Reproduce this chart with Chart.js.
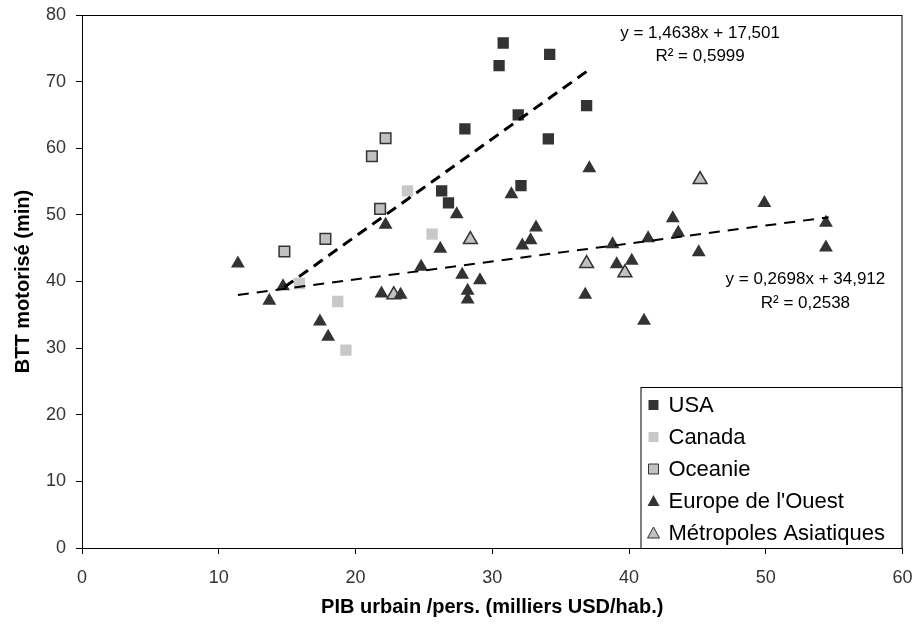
<!DOCTYPE html>
<html>
<head>
<meta charset="utf-8">
<script src="https://cdn.jsdelivr.net/npm/chart.js@4.4.1/dist/chart.umd.min.js"></script>
<style>
  html, body { margin: 0; padding: 0; background: #fff; }
  canvas { display: block; }
</style>
</head>
<body>
<canvas id="bttChart" width="912" height="627"></canvas>
<script>
// values (x = PIB urbain, y = BTT motorisé)
const usaX = [30.8, 34.2, 30.5, 36.9, 31.9, 28.0, 34.1, 32.1, 26.3, 26.8];
const usaY = [75.8, 74.1, 72.4, 66.4, 65.0, 62.9, 61.4, 54.4, 53.6, 51.8];

const canadaX = [23.8, 25.6, 15.9, 18.7, 19.3];
const canadaY = [53.6, 47.1, 39.7, 37.0, 29.7];

const oceanieX = [22.2, 21.2, 21.8, 17.8, 14.8];
const oceanieY = [61.5, 58.8, 50.9, 46.4, 44.5];

const europeX = [11.4, 13.7, 14.7, 17.4, 18.0, 22.2, 21.9, 23.3, 27.4, 26.2, 24.8, 27.8, 29.1, 28.2, 28.2, 37.1,
                 31.4, 33.2, 32.8, 32.2, 38.8, 39.1, 40.2, 36.8, 41.1, 41.4, 43.2, 43.6, 45.1, 49.9, 54.4, 54.4];
const europeY = [42.7, 37.1, 39.3, 34.0, 31.7, 48.5, 38.2, 38.0, 50.1, 44.9, 42.2, 41.0, 40.2, 38.6, 37.3, 57.0,
                 53.1, 48.1, 46.2, 45.4, 45.6, 42.6, 43.1, 38.0, 34.1, 46.5, 49.5, 47.3, 44.4, 51.8, 48.8, 45.1];

const asieX = [28.4, 22.8, 36.9, 39.7, 45.2];
const asieY = [46.3, 38.0, 42.7, 41.3, 55.3];

// trend lines as printed on the chart: slope, intercept, x range
const trendNord = [1.4638, 17.501];
const trendNordRange = [14.8, 37.0];
const trendNordText = ['y = 1,4638x + 17,501', 'R² = 0,5999'];
const trendEurAsie = [0.2698, 34.912];
const trendEurAsieRange = [11.4, 54.6];
const trendEurAsieText = ['y = 0,2698x + 34,912', 'R² = 0,2538'];

const xTicks = [0, 10, 20, 30, 40, 50, 60];
const yTicks = [0, 10, 20, 30, 40, 50, 60, 70, 80];

const toPoints = (xs, ys) => xs.map((x, i) => ({x: x, y: ys[i]}));
const trendPoints = (coef, range) => range.map(x => ({x: x, y: coef[0] * x + coef[1]}));

const dark = '#333333';
const FONT = '"Liberation Sans", Arial, sans-serif';

const datasets = [
    {label: 'trendNord', type: 'line', data: trendPoints(trendNord, trendNordRange),
     borderColor: '#000', borderWidth: 3, borderDash: [11, 7], pointRadius: 0, fill: false, inLegend: false},
    {label: 'trendEurAsie', type: 'line', data: trendPoints(trendEurAsie, trendEurAsieRange),
     borderColor: '#000', borderWidth: 2, borderDash: [11, 8], pointRadius: 0, fill: false, inLegend: false},
    {label: 'USA', data: toPoints(usaX, usaY), pointStyle: 'rect', pointRadius: 8,
     backgroundColor: dark, borderColor: dark, borderWidth: 0},
    {label: 'Canada', data: toPoints(canadaX, canadaY), pointStyle: 'rect', pointRadius: 8,
     backgroundColor: '#c8c8c8', borderColor: '#c8c8c8', borderWidth: 0},
    {label: 'Oceanie', data: toPoints(oceanieX, oceanieY), pointStyle: 'rect', pointRadius: 7.5,
     backgroundColor: '#c0c0c0', borderColor: dark, borderWidth: 1.5},
    {label: "Europe de l'Ouest", data: toPoints(europeX, europeY), pointStyle: 'triangle', pointRadius: 8,
     backgroundColor: dark, borderColor: dark, borderWidth: 0},
    {label: 'Métropoles Asiatiques', data: toPoints(asieX, asieY), pointStyle: 'triangle', pointRadius: 8,
     backgroundColor: '#c0c0c0', borderColor: dark, borderWidth: 1.5}
];

// frame around the plot area
const frame = {
    id: 'frame',
    beforeDatasetsDraw(chart) {
        const {ctx, chartArea: a} = chart;
        ctx.save();
        ctx.strokeStyle = '#000';
        ctx.lineWidth = 1;
        ctx.strokeRect(a.left + 0.5, a.top + 0.5, a.right - a.left - 1, a.bottom - a.top);
        ctx.restore();
    }
};

// equations + boxed legend drawn inside the plot area
const notes = {
    id: 'notes',
    afterDatasetsDraw(chart) {
        const {ctx, chartArea: a, scales} = chart;
        ctx.save();
        ctx.fillStyle = '#000';
        ctx.font = '17px ' + FONT;
        ctx.textAlign = 'center';
        ctx.textBaseline = 'middle';
        let cx = scales.x.getPixelForValue(45.2);
        ctx.fillText(trendNordText[0], cx, scales.y.getPixelForValue(77.3));
        ctx.fillText(trendNordText[1], cx, scales.y.getPixelForValue(73.8));
        cx = scales.x.getPixelForValue(52.9);
        ctx.fillText(trendEurAsieText[0], cx, scales.y.getPixelForValue(40.4));
        ctx.fillText(trendEurAsieText[1], cx, scales.y.getPixelForValue(36.7));

        // legend box
        const w = 262, h = 161;
        const lx = a.right - w, ly = a.bottom - h;
        ctx.fillStyle = '#fff';
        ctx.fillRect(lx, ly, w, h);
        ctx.strokeStyle = '#000';
        ctx.lineWidth = 1;
        ctx.strokeRect(lx + 0.5, ly + 0.5, w - 1, h);
        ctx.textAlign = 'left';
        ctx.font = '22px ' + FONT;
        datasets.filter(d => d.inLegend !== false).forEach((d, i) => {
            const y = ly + 18 + i * 32;
            const mx = lx + 13;
            ctx.fillStyle = d.backgroundColor;
            ctx.strokeStyle = d.borderColor;
            ctx.lineWidth = d.borderWidth ? 1 : 0;
            ctx.beginPath();
            if (d.pointStyle === 'rect') {
                ctx.rect(mx - 5, y - 5, 10, 10);
            } else {
                ctx.moveTo(mx, y - 6);
                ctx.lineTo(mx + 6, y + 5);
                ctx.lineTo(mx - 6, y + 5);
                ctx.closePath();
            }
            ctx.fill();
            if (d.borderWidth) ctx.stroke();
            ctx.fillStyle = '#000';
            ctx.fillText(d.label, lx + 28, y + 1);
        });
        ctx.restore();
    }
};

new Chart(document.getElementById('bttChart'), {
    type: 'scatter',
    data: {datasets: datasets},
    options: {
        responsive: false,
        animation: false,
        layout: {padding: {top: 15, right: 8, left: 0, bottom: 0}},
        plugins: {legend: {display: false}, tooltip: {enabled: false}},
        scales: {
            x: {
                type: 'linear', min: 0, max: 60,
                afterBuildTicks: s => { s.ticks = xTicks.map(v => ({value: v})); },
                afterFit: s => { s.height = 79; s.paddingLeft = 0; s.paddingRight = 0; },
                ticks: {color: '#333', font: {family: FONT, size: 18}, padding: 13, maxRotation: 0, autoSkip: false},
                grid: {drawOnChartArea: false, drawTicks: true, tickLength: 6, color: '#000'},
                border: {color: '#000', width: 1},
                title: {display: true, text: 'PIB urbain /pers. (milliers USD/hab.)', color: '#000',
                        font: {family: FONT, size: 20, weight: 'bold'}, padding: {top: 0, bottom: 8}}
            },
            y: {
                type: 'linear', min: 0, max: 80,
                afterBuildTicks: s => { s.ticks = yTicks.map(v => ({value: v})); },
                afterFit: s => { s.width = 82; s.paddingTop = 0; s.paddingBottom = 0; },
                ticks: {color: '#333', font: {family: FONT, size: 18}, padding: 10, autoSkip: false},
                grid: {drawOnChartArea: false, drawTicks: true, tickLength: 6, color: '#000'},
                border: {color: '#000', width: 1},
                title: {display: true, text: 'BTT motorisé (min)', color: '#000',
                        font: {family: FONT, size: 20, weight: 'bold'}, padding: {top: 11, bottom: 0}}
            }
        }
    },
    plugins: [frame, notes]
});
</script>
</body>
</html>
